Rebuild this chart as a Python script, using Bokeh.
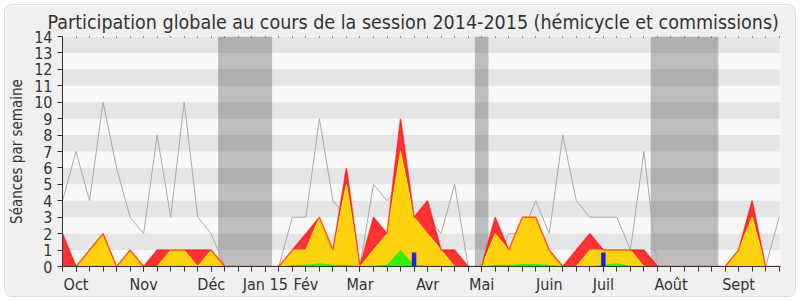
from bokeh.plotting import figure
from bokeh.models import Range1d, FixedTicker, LinearAxis, BoxAnnotation
from bokeh.embed import file_html
from bokeh.resources import INLINE

# ---- data (weekly, session 2014-2015) ----
weeks = list(range(54))
month_ticks = [1, 6, 11, 15, 18, 22, 27, 31, 36, 40, 45, 50]
month_labels = ["Oct", "Nov", "Déc", "Jan 15", "Fév", "Mar", "Avr", "Mai", "Juin", "Juil", "Août", "Sept"]

# gray line: séances de l'Assemblée
seances = [4, 7, 4, 10, 6, 3, 2, 8, 3, 10, 3, 2, 0, 0, 0, 0, 0, 3, 3, 9,
           4, 3, 0, 5, 4, 5, 3, 3, 2, 5, 0, 0, 0, 2, 2, 4, 2, 8, 4, 3,
           3, 3, 1, 7, 0, 0, 0, 0, 0, 0, 0, 0, 0, 3]
# red area: présences
presences = [2, 0, 1, 2, 0, 1, 0, 1, 1, 1, 1, 1, 0, 0, 0, 0, 0, 1, 2, 3,
             1, 6, 0, 3, 2, 9, 3, 4, 1, 1, 0, 0, 3, 1, 3, 3, 1, 0, 1, 2,
             1, 1, 1, 1, 0, 0, 0, 0, 0, 0, 1, 4, 0, 0]
# yellow area: participations
participations = [0, 0, 1, 2, 0, 1, 0, 0, 1, 1, 0, 1, 0, 0, 0, 0, 0, 1, 1, 3,
                  1, 5, 0, 1, 2, 7, 3, 2, 1, 0, 0, 0, 2, 1, 3, 3, 1, 0, 0, 1,
                  1, 1, 1, 0, 0, 0, 0, 0, 0, 0, 1, 3, 0, 0]
# green area: interventions
interventions = [0, 0, 0.05, 0.05, 0, 0, 0, 0, 0.05, 0.05, 0, 0.05, 0, 0, 0, 0, 0, 0.1, 0.1, 0.2,
                 0.1, 0.1, 0, 0.05, 0.1, 1, 0.1, 0.05, 0.05, 0, 0, 0, 0.1, 0.1, 0.15, 0.15, 0.1, 0, 0, 0,
                 0.1, 0.2, 0.05, 0, 0, 0, 0, 0, 0, 0, 0, 0.05, 0, 0]
# blue bars: questions orales
question_weeks = [26, 40]
question_values = [0.85, 0.85]

# vacations (week index ranges)
vacation_starts = [11.5, 30.5, 43.5]
vacation_ends = [15.5, 31.5, 48.5]

FONT = "DejaVu Sans Condensed"

p = figure(width=790, height=291, x_range=Range1d(0, 53.1), y_range=Range1d(0, 14),
           output_backend="svg", toolbar_location=None,
           min_border_left=57, min_border_right=15, min_border_top=31, min_border_bottom=30,
           background_fill_color="#f9f9f9", border_fill_color="#f0f0f0",
           margin=(5, 5, 4, 5))
p.styles = {"border-radius": "7px", "overflow": "hidden", "box-shadow": "0 0 0 1px #dedede"}
p.outline_line_color = None

p.title.text = "Participation globale au cours de la session 2014-2015 (hémicycle et commissions)"
p.title.align = "left"
p.title.offset = -15
p.title.text_font = FONT
p.title.text_font_size = "19.5px"
p.title.text_font_style = "normal"
p.title.text_color = "#333333"
p.title.standoff = 5

# horizontal stripes
p.xgrid.visible = False
p.ygrid.ticker = FixedTicker(ticks=list(range(15)))
p.ygrid.grid_line_color = None
p.ygrid.band_fill_color = "#e5e5e5"
p.ygrid.band_fill_alpha = 1.0

for s, e in zip(vacation_starts, vacation_ends):
    p.add_layout(BoxAnnotation(left=s, right=e, fill_color="#333333", fill_alpha=0.3,
                               line_color=None, level="underlay"))

p.line(weeks, seances, line_color="#aaaaaa", line_width=1)
p.varea(x=weeks, y1=0, y2=presences, fill_color="#ff3333")
p.varea(x=weeks, y1=0, y2=participations, fill_color="#ffd20f")
p.line(weeks, participations, line_color="#ffee22", line_width=1)
p.line(weeks, presences, line_color="#ff0000", line_width=1.5, line_alpha=0.6)
p.varea(x=weeks, y1=0, y2=interventions, fill_color="#33ee11")
p.vbar(x=question_weeks, top=question_values, width=0.33, fill_color="#2020dd", line_color=None)

# axes
p.yaxis.ticker = FixedTicker(ticks=list(range(15)))
p.yaxis.axis_label = "Séances par semaine"
p.yaxis.axis_label_text_font = FONT
p.yaxis.axis_label_text_font_size = "15px"
p.yaxis.axis_label_text_font_style = "normal"
p.yaxis.axis_label_text_color = "#333333"
p.yaxis.axis_label_standoff = 5
p.yaxis.major_label_text_font = FONT
p.yaxis.major_label_text_font_size = "16px"
p.yaxis.major_label_text_color = "#333333"
p.yaxis.major_label_standoff = 5
p.yaxis.major_tick_out = 5
p.yaxis.major_tick_in = 0
p.yaxis.minor_tick_line_color = None
p.yaxis.axis_line_color = "#333333"
p.yaxis.major_tick_line_color = "#333333"

p.xaxis.ticker = FixedTicker(ticks=month_ticks, minor_ticks=weeks)
p.xaxis.major_label_overrides = {t: l for t, l in zip(month_ticks, month_labels)}
p.xaxis.major_label_text_font = FONT
p.xaxis.major_label_text_font_size = "16px"
p.xaxis.major_label_text_color = "#333333"
p.xaxis.major_label_standoff = 3
p.xaxis.major_tick_out = 5
p.xaxis.major_tick_in = 0
p.xaxis.minor_tick_out = 5
p.xaxis.minor_tick_in = 0
p.xaxis.axis_line_color = "#333333"
p.xaxis.major_tick_line_color = "#333333"
p.xaxis.minor_tick_line_color = "#333333"

top_axis = LinearAxis(ticker=FixedTicker(ticks=weeks),
                      major_label_overrides={w: "" for w in weeks},
                      major_label_text_font_size="8px",
                      major_label_standoff=0, major_tick_in=2, major_tick_out=0,
                      major_tick_line_color="#333333", major_tick_line_dash="1 1",
                      minor_tick_line_color=None, axis_line_color=None)
p.add_layout(top_axis, "above")

open("out.html", "w").write(file_html(p, INLINE))
